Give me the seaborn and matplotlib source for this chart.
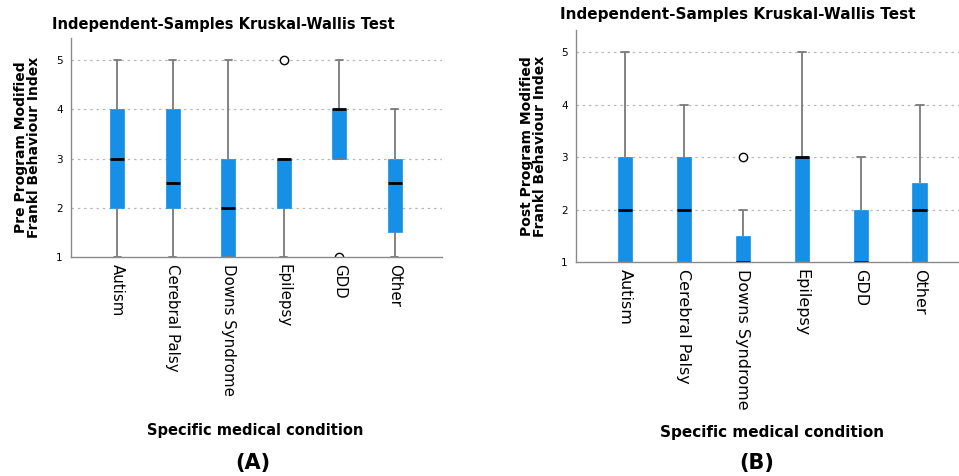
import matplotlib
matplotlib.use("Agg")
import matplotlib.pyplot as plt
from matplotlib.patches import Polygon
import numpy as np
import pandas as pd
import seaborn as sns

# ---------------- data ----------------
conditions = ["Autism", "Cerebral Palsy", "Downs Syndrome", "Epilepsy", "GDD", "Other"]

# Pre program Modified Frankl Behaviour Index scores (per condition)
pre_autism = [1, 2, 2, 3, 3, 4, 4, 5]
pre_cerebral_palsy = [1, 2, 2, 2, 3, 4, 4, 5]
pre_downs = [1, 1, 1, 2, 2, 3, 3, 5]
pre_epilepsy = [1, 2, 2, 3, 3, 3, 3, 5]
pre_gdd = [1, 3, 3, 4, 4, 4, 4, 5]
pre_other = [1, 1.5, 2.5, 3, 4]

# Post program Modified Frankl Behaviour Index scores (per condition)
post_autism = [1, 1, 1, 2, 2, 3, 3, 5]
post_cerebral_palsy = [1, 1, 1, 2, 2, 3, 3, 4]
post_downs = [1, 1, 1, 1, 1, 2, 3]
post_epilepsy = [1, 1, 1, 3, 3, 3, 3, 5]
post_gdd = [1, 1, 1, 1, 1, 2, 2, 3]
post_other = [1, 1, 1, 2, 2, 3, 4]

y_ticks = [1, 2, 3, 4, 5]

pre_lists = [pre_autism, pre_cerebral_palsy, pre_downs, pre_epilepsy, pre_gdd, pre_other]
post_lists = [post_autism, post_cerebral_palsy, post_downs, post_epilepsy, post_gdd, post_other]


def to_frame(lists):
    rows = []
    for cond, vals in zip(conditions, lists):
        for v in vals:
            rows.append((cond, v))
    return pd.DataFrame(rows, columns=["condition", "score"])


df_pre = to_frame(pre_lists)
df_post = to_frame(post_lists)

# ---------------- style ----------------
sns.set_style("white")
plt.rcParams["font.family"] = ["DejaVu Sans"]
plt.rcParams["text.color"] = "black"
plt.rcParams["axes.labelcolor"] = "black"
plt.rcParams["xtick.color"] = "black"
plt.rcParams["ytick.color"] = "black"

BLUE = "#1590E6"
WHISKER = "#7a7a7a"
SPINE = "#8a8a8a"
GRID = "#b8b8b8"

W, H = 959, 476
fig = plt.figure(figsize=(W / 100, H / 100), dpi=100)


def px_axes(left, top, right, bottom):
    return fig.add_axes([left / W, 1 - bottom / H, (right - left) / W, (bottom - top) / H])


ax1 = px_axes(71, 38, 442, 257)
ax2 = px_axes(576, 30, 970, 262)


def draw(ax, df, ylabel, ylim_top, xfs):
    sns.boxplot(
        data=df, x="condition", y="score", order=conditions, ax=ax,
        color=BLUE, saturation=1, width=0.25, whis=1.5, fliersize=6,
        boxprops=dict(edgecolor=BLUE, linewidth=0.5),
        medianprops=dict(color="black", linewidth=2.0),
        whiskerprops=dict(color=WHISKER, linewidth=1.3),
        capprops=dict(color=WHISKER, linewidth=1.3),
        flierprops=dict(marker="o", markerfacecolor="white",
                        markeredgecolor="black", markeredgewidth=1.0),
    )
    clip_poly = Polygon([[0, 0], [1, 0], [1, 1], [0, 1]], closed=True,
                        transform=ax.transAxes)
    for ln in ax.lines:
        ln.set_clip_path(clip_poly)
    ax.set_xlim(-0.83, 5.85)
    ax.set_ylim(1, ylim_top)
    ax.set_yticks(y_ticks)
    ax.set_yticklabels([str(t) for t in y_ticks], fontsize=7.5)
    ax.tick_params(axis="y", length=0, pad=6)
    ax.tick_params(axis="x", length=0, pad=5)
    ax.set_xticks(range(len(conditions)))
    ax.set_xticklabels(conditions, rotation=270, fontsize=xfs, va="top", ha="center")
    ax.set_xlabel("")
    ax.set_ylabel(ylabel, fontsize=10, fontweight="bold", linespacing=0.95)
    for gy in y_ticks[1:]:
        ax.axhline(gy, color=GRID, linewidth=0.9, linestyle=(0, (2, 3)), zorder=0)
    ax.set_axisbelow(True)
    for s in ["top", "right"]:
        ax.spines[s].set_visible(False)
    for s in ["left", "bottom"]:
        ax.spines[s].set_color(SPINE)
        ax.spines[s].set_linewidth(1.0)
        ax.spines[s].set_zorder(5)
    ax.patch.set_alpha(0)


draw(ax1, df_pre, "Pre Program Modified\nFrankl Behaviour Index", 5.45, 10.8)
draw(ax2, df_post, "Post Program Modified\nFrankl Behaviour Index", 5.42, 11.5)

ax1.yaxis.set_label_coords((41 - 71) / 371, 0.5)
ax2.yaxis.set_label_coords((547 - 576) / 394, 0.5)

# titles
fig.text(223 / W, 1 - 25 / H, "Independent-Samples Kruskal-Wallis Test",
         ha="center", va="center", fontsize=10.5, fontweight="bold")
fig.text(738 / W, 1 - 15 / H, "Independent-Samples Kruskal-Wallis Test",
         ha="center", va="center", fontsize=11, fontweight="bold")

# x labels
fig.text(255 / W, 1 - 430 / H, "Specific medical condition",
         ha="center", va="center", fontsize=10.5, fontweight="bold")
fig.text(772 / W, 1 - 433 / H, "Specific medical condition",
         ha="center", va="center", fontsize=11, fontweight="bold")

# panel letters
fig.text(253 / W, 1 - 463 / H, "(A)", ha="center", va="center",
         fontsize=15, fontweight="bold")
fig.text(757 / W, 1 - 463 / H, "(B)", ha="center", va="center",
         fontsize=15, fontweight="bold")

fig.savefig("out.png", dpi=100)
